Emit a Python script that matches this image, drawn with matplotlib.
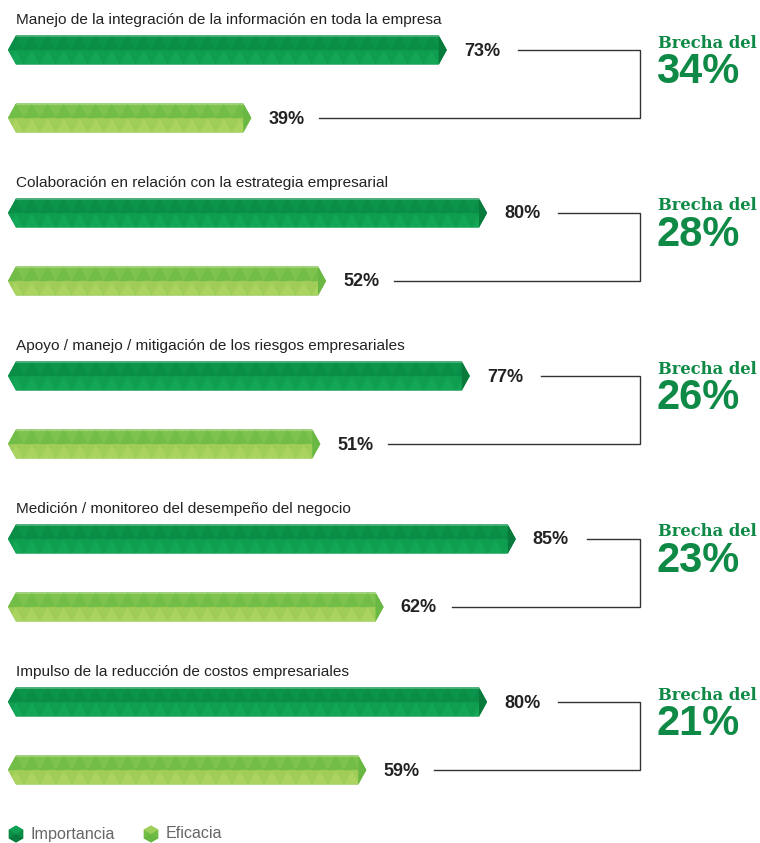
import matplotlib
matplotlib.use("Agg")
import matplotlib.pyplot as plt
from matplotlib.patches import Polygon
from matplotlib.collections import PolyCollection
import numpy as np

categories = [
    "Manejo de la integración de la información en toda la empresa",
    "Colaboración en relación con la estrategia empresarial",
    "Apoyo / manejo / mitigación de los riesgos empresariales",
    "Medición / monitoreo del desempeño del negocio",
    "Impulso de la reducción de costos empresariales",
]
importancia = [73, 80, 77, 85, 80]
eficacia = [39, 52, 51, 62, 59]
series_names = ["Importancia", "Eficacia"]
gap_prefix = "Brecha del"

W, H = 760, 843
fig = plt.figure(figsize=(W / 100, H / 100), dpi=100)
ax = fig.add_axes([0, 0, 1, 1])

# x in percent units; scale: pixel = 27 + 5.75 * value
X0PX, SCALE = 27.0, 5.75
def PX(p):
    return (p - X0PX) / SCALE

ax.set_xlim(PX(0), PX(W))
ax.set_ylim(H, 0)
ax.axis("off")

imp_cols = dict(top=("#0a8d46", "#0b944a"), bot=("#0f9e50", "#12a656"), tip="#087a3c")
eff_cols = dict(top=("#72bc48", "#7ec34d"), bot=("#a0cd58", "#aad45f"), tip="#68b843")

BAR_H = 29.0
TIP = 8 / SCALE
TRI = 16 / SCALE
START = PX(8)


def draw_bar(value, yc, cols):
    top, bot = yc - BAR_H / 2, yc + BAR_H / 2
    x0, x1 = START, value
    verts = [(x0, yc), (x0 + TIP, top), (x1 - TIP, top), (x1, yc), (x1 - TIP, bot), (x0 + TIP, bot)]
    base = Polygon(verts, closed=True, facecolor=cols["top"][0], edgecolor="none", zorder=2)
    ax.add_patch(base)
    tris, fcs = [], []
    n = int(np.ceil((x1 - x0) / TRI)) + 2
    for k in range(-1, n):
        xs = x0 + k * TRI
        tris.append([(xs, yc), (xs + TRI / 2, top), (xs + TRI, yc)]); fcs.append(cols["top"][0])
        tris.append([(xs + TRI / 2, top), (xs + TRI, yc), (xs + 1.5 * TRI, top)]); fcs.append(cols["top"][1])
        tris.append([(xs, bot), (xs + TRI / 2, yc), (xs + TRI, bot)]); fcs.append(cols["bot"][1])
        tris.append([(xs + TRI / 2, yc), (xs + TRI, bot), (xs + 1.5 * TRI, yc)]); fcs.append(cols["bot"][0])
    pc = PolyCollection(tris, facecolors=fcs, edgecolors=fcs, linewidths=0.3, zorder=3)
    ax.add_collection(pc)
    pc.set_clip_path(base)
    tipv = [(x1 - TIP, top), (x1, yc), (x1 - TIP, bot)]
    ax.add_patch(Polygon(tipv, closed=True, facecolor=cols["tip"], edgecolor="none", zorder=4))
    ax.plot([x0 + TIP, x1 - TIP], [top + 0.6, top + 0.6], color="white", alpha=0.25, lw=0.8, zorder=5)


title_font = dict(family=["Liberation Sans", "DejaVu Sans"], fontsize=11.1, color="#222222")
val_font = dict(family=["Liberation Sans", "DejaVu Sans"], fontsize=13, color="#222222", fontweight="bold")
green = "#0f8a46"

for i, (cat, vi, ve) in enumerate(zip(categories, importancia, eficacia)):
    yi = 50 + 163 * i
    ye = yi + 68
    ax.text(PX(16), yi - 30, cat, ha="left", va="center", **title_font)
    draw_bar(vi, yi, imp_cols)
    draw_bar(ve, ye, eff_cols)
    ax.text(vi + 17 / SCALE, yi + 1, f"{vi}%", ha="left", va="center", **val_font)
    ax.text(ve + 17 / SCALE, ye + 1, f"{ve}%", ha="left", va="center", **val_font)
    xr = PX(640)
    ax.plot([vi + 71 / SCALE, xr, xr, ve + 68 / SCALE], [yi, yi, ye, ye],
            color="#333333", lw=1.0, solid_joinstyle="miter", zorder=1)
    ax.text(PX(658), yi - 7, gap_prefix, ha="left", va="center",
            family=["DejaVu Serif"], fontweight="bold", fontsize=11.8, color=green)
    ax.text(PX(656), yi + 22, f"{vi - ve}%", ha="left", va="center",
            family=["Liberation Sans"], fontweight="bold", fontsize=30, color=green)

def hex_icon(cx, cy, cols):
    r = 8.5
    ang = np.deg2rad(np.arange(6) * 60 + 30)
    pts = [(cx + r * np.cos(a) / SCALE, cy + r * np.sin(a)) for a in ang]
    ax.add_patch(Polygon(pts, closed=True, facecolor=cols["top"][0], edgecolor="none", zorder=2))
    c = (cx, cy)
    ax.add_patch(Polygon([c, pts[3], pts[4], pts[5]], closed=True, facecolor=cols["bot"][1], edgecolor="none", alpha=0.8, zorder=3))
    ax.add_patch(Polygon([c, pts[0], pts[1], pts[2]], closed=True, facecolor=cols["tip"], edgecolor="none", zorder=3))

leg_font = dict(family=["Liberation Sans", "DejaVu Sans"], fontsize=11.6, color="#666666")
hex_icon(PX(16), 834, imp_cols)
ax.text(PX(31), 834, series_names[0], ha="left", va="center", **leg_font)
hex_icon(PX(151), 834, eff_cols)
ax.text(PX(166), 834, series_names[1], ha="left", va="center", **leg_font)

fig.savefig("out.png", dpi=100, facecolor="white")
